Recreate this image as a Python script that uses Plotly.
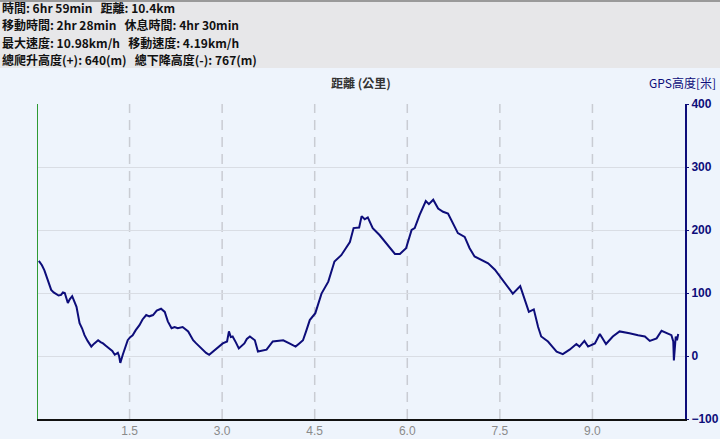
import plotly.graph_objects as go

# Distance (km) and GPS elevation (m)
distance_km = [0.03, 0.08, 0.12, 0.15, 0.18, 0.23, 0.27, 0.31, 0.35, 0.39, 0.42, 0.45, 0.50, 0.53,
               0.57, 0.64, 0.69, 0.73, 0.77, 0.82, 0.88, 0.93, 0.99, 1.03, 1.07, 1.12, 1.18, 1.22,
               1.26, 1.31, 1.33, 1.35, 1.39, 1.43, 1.47, 1.51, 1.55, 1.60, 1.66, 1.71, 1.77, 1.82,
               1.88, 1.94, 2.01, 2.07, 2.12, 2.18, 2.23, 2.28, 2.36, 2.45, 2.53, 2.58, 2.63, 2.69,
               2.74, 2.79, 2.88, 2.95, 3.01, 3.08, 3.11, 3.14, 3.17, 3.22, 3.27, 3.36, 3.40, 3.45,
               3.53, 3.58, 3.65, 3.72, 3.82, 3.90, 3.99, 4.09, 4.19, 4.25, 4.31, 4.36, 4.42, 4.51,
               4.61, 4.72, 4.82, 4.93, 5.01, 5.07, 5.13, 5.22, 5.26, 5.31, 5.36, 5.44, 5.55, 5.69,
               5.80, 5.88, 5.98, 6.07, 6.12, 6.20, 6.30, 6.35, 6.42, 6.50, 6.58, 6.66, 6.74, 6.82,
               6.93, 7.01, 7.09, 7.20, 7.31, 7.42, 7.53, 7.61, 7.71, 7.83, 7.90, 7.97, 8.05, 8.12,
               8.17, 8.28, 8.35, 8.42, 8.52, 8.63, 8.74, 8.79, 8.87, 8.93, 9.04, 9.12, 9.22, 9.33,
               9.44, 9.52, 9.60, 9.74, 9.85, 9.93, 10.04, 10.12, 10.20, 10.28, 10.31, 10.32, 10.35,
               10.37, 10.39]
elevation_m = [151, 144, 136, 128, 121, 105, 101, 99, 96, 97, 101, 100, 84, 90,
               95, 78, 52, 44, 33, 24, 15, 20, 25, 22, 20, 16, 12, 8,
               2, 5, 0, -11, 2, 15, 25, 30, 33, 41, 49, 58, 65, 63,
               65, 72, 75, 70, 55, 44, 46, 44, 46, 39, 25, 20, 15, 10,
               5, 2, 10, 15, 20, 23, 39, 30, 31, 22, 12, 20, 27, 31,
               25, 7, 8, 10, 23, 24, 25, 20, 15, 20, 25, 39, 57, 68,
               99, 118, 150, 160, 173, 181, 203, 204, 222, 217, 220, 203, 192, 176,
               162, 162, 171, 200, 203, 224, 246, 241, 248, 234, 229, 226, 210, 195,
               189, 171, 158, 152, 147, 137, 123, 113, 99, 111, 89, 70, 74, 46,
               31, 23, 15, 7, 3, 10, 19, 15, 24, 15, 20, 35, 19, 31,
               39, 38, 36, 33, 31, 24, 28, 40, 37, 33, 23, -7, 31,
               25, 35]

x_tickvals = [1.5, 3.0, 4.5, 6.0, 7.5, 9.0]
x_ticktext = ["1.5", "3.0", "4.5", "6.0", "7.5", "9.0"]
y_tickvals = [-100, 0, 100, 200, 300, 400]

header_lines = [
    "時間: 6hr 59min   距離: 10.4km",
    "移動時間: 2hr 28min   休息時間: 4hr 30min",
    "最大速度: 10.98km/h   移動速度: 4.19km/h",
    "總爬升高度(+): 640(m)   總下降高度(-): 767(m)",
]

W, H = 720, 439
ML, MR, MT, MB = 37, 35, 104, 20
PW, PH = W - ML - MR, H - MT - MB
BG = "#eef4fc"
NAVY = "#0d0d7a"
FONT = "Noto Sans CJK TC"

fig = go.Figure()
fig.add_trace(go.Scatter(
    x=distance_km, y=elevation_m, mode="lines",
    line=dict(color=NAVY, width=2), hoverinfo="skip", showlegend=False,
))

shapes = [
    # header band
    dict(type="rect", xref="paper", yref="paper", x0=-ML / PW, x1=1 + MR / PW,
         y0=1 + (MT - 68) / PH, y1=1 + MT / PH,
         fillcolor="#e7e7e9", line=dict(width=0), layer="below"),
    dict(type="line", xref="paper", yref="paper", x0=-ML / PW, x1=1 + MR / PW,
         y0=1 + (MT - 1) / PH, y1=1 + (MT - 1) / PH,
         line=dict(color="#9a9a9a", width=2), layer="below"),
    # left green line
    dict(type="line", xref="x", yref="paper", x0=0, x1=0, y0=0, y1=1,
         line=dict(color="#2e9a34", width=2)),
]
for xv in x_tickvals:
    shapes.append(dict(type="line", xref="x", yref="paper", x0=xv, x1=xv, y0=0, y1=1,
                       line=dict(color="#c9ccd3", width=1.5, dash="10px,7px"), layer="below"))

annotations = []
for i, t in enumerate(header_lines):
    annotations.append(dict(text="<b>" + t + "</b>", xref="paper", yref="paper",
                            x=-ML / PW, xanchor="left",
                            y=1 + (MT - 7 - 17.5 * i) / PH, yanchor="middle",
                            showarrow=False, font=dict(family=FONT, size=12, color="#111111")))
annotations.append(dict(text="<b>距離 (公里)</b>", xref="paper", yref="paper",
                        x=(361 - ML) / PW, xanchor="center",
                        y=1 + (MT - 82) / PH, yanchor="middle", showarrow=False,
                        font=dict(family=FONT, size=12, color="#333333")))
annotations.append(dict(text="GPS高度[米]", xref="paper", yref="paper",
                        x=1 + (MR - 2) / PW, xanchor="right",
                        y=1 + (MT - 82) / PH, yanchor="middle", showarrow=False,
                        font=dict(family=FONT, size=12, color=NAVY)))

fig.update_layout(
    width=W, height=H,
    margin=dict(l=ML, r=MR, t=MT, b=MB, pad=0, autoexpand=False),
    paper_bgcolor=BG, plot_bgcolor=BG,
    shapes=shapes, annotations=annotations,
    xaxis=dict(range=[0, 10.5], tickvals=x_tickvals, ticktext=x_ticktext, automargin=False,
               showgrid=False, zeroline=False, showline=True, linecolor="#111111", linewidth=2,
               ticks="", tickfont=dict(family="Liberation Sans", size=12, color="#8a8a8a"),
               fixedrange=True),
    yaxis=dict(range=[-100, 400], tickvals=y_tickvals, side="right", automargin=False,
               showgrid=True, gridcolor="#d9dde4", gridwidth=1, zeroline=False,
               showline=True, linecolor=NAVY, linewidth=2, mirror=False,
               ticks="outside", ticklen=2, tickcolor=NAVY,
               tickfont=dict(family="Liberation Sans", size=12, color=NAVY, weight="bold"),
               fixedrange=True),
)

fig.write_html("out.html", config={"displayModeBar": False},
               post_script="document.body.style.margin='0';document.body.style.overflow='hidden';")
